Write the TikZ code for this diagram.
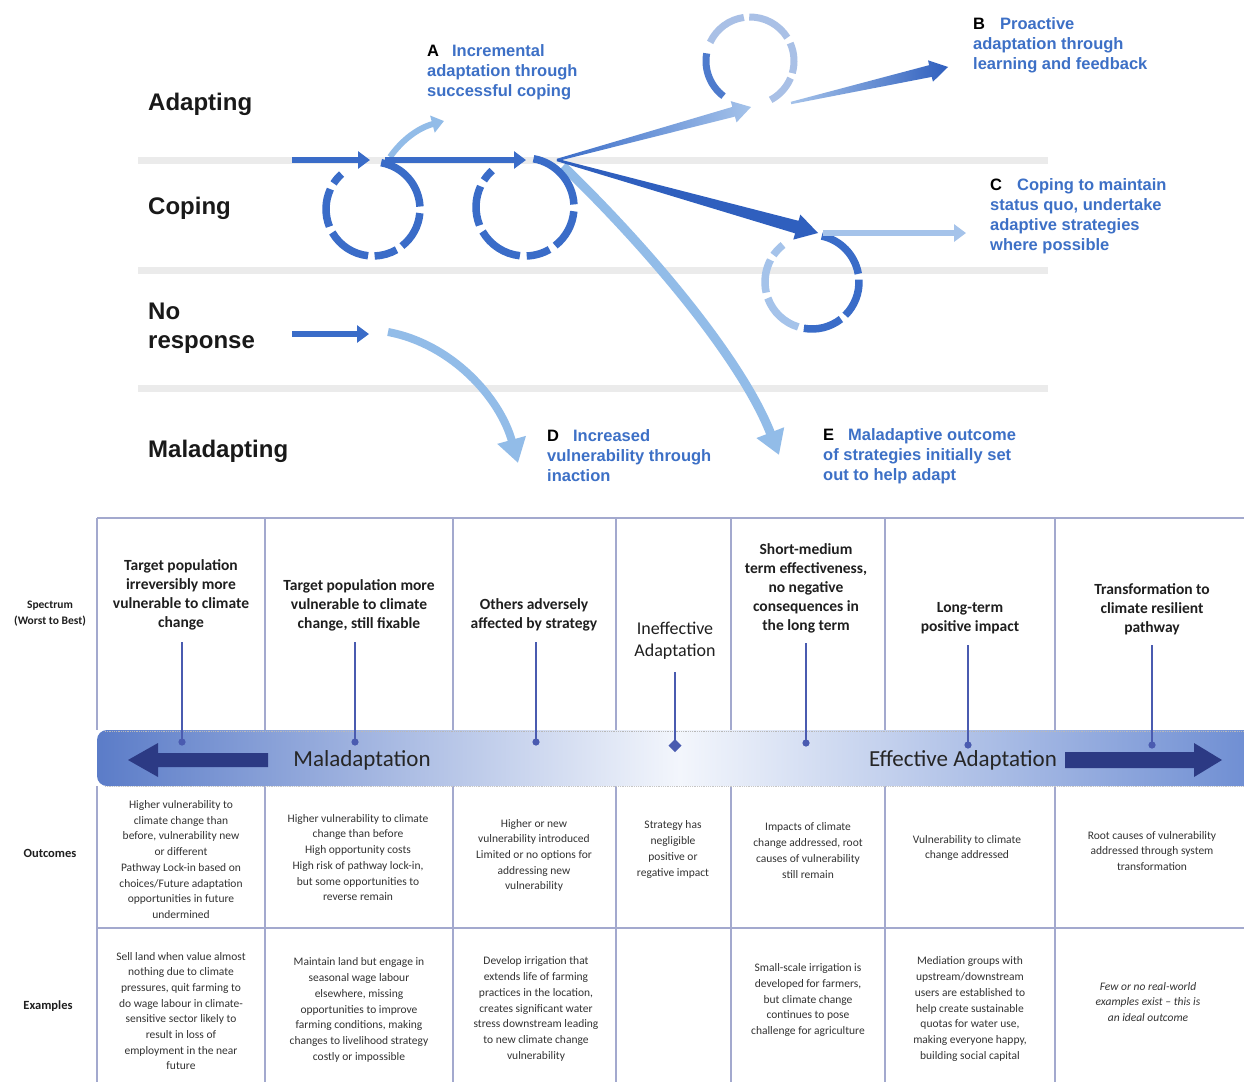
\documentclass[tikz,border=0pt]{standalone}
\usepackage{fontspec}
\setmainfont{Liberation Sans}
\newfontfamily\calfont{Carlito}
\usetikzlibrary{arrows.meta,calc}
\definecolor{bandgray}{HTML}{EBEBEB}
\definecolor{mblue}{HTML}{3A6CC8}
\definecolor{dblue}{HTML}{2F5FBE}
\definecolor{lblue}{HTML}{92BCE8}
\definecolor{lblue2}{HTML}{A5C3EA}
\definecolor{cfade}{HTML}{A9C0E6}
\definecolor{tblue}{HTML}{3D70C6}
\definecolor{tline}{HTML}{A3A9CE}
\definecolor{mk}{HTML}{4A5BB0}
\definecolor{navy}{HTML}{2C3A84}
\definecolor{navyl}{HTML}{5466B8}
\definecolor{barL}{HTML}{5B7CC8}
\definecolor{barM}{HTML}{F3F6FC}
\definecolor{barR}{HTML}{6C8CD2}
\definecolor{txt}{HTML}{333333}
\newcommand{\taparrow}[7]{%
  \coordinate (tpB) at ($(#2)!#6!(#1)$);
  \path[#7] ($(#1)!#3!90:(#2)$) -- ($(tpB)!#4!-90:(#1)$) -- ($(tpB)!#5!-90:(#1)$) -- (#2)
     -- ($(tpB)!#5!90:(#1)$) -- ($(tpB)!#4!90:(#1)$) -- ($(#1)!#3!-90:(#2)$) -- cycle;
}
\newcommand{\carc}[5]{%
  \draw[#5] ($(#1)+(#3:#2)$) arc[start angle=#3, end angle=#4, radius=#2];
}
\begin{document}
\begin{tikzpicture}[x=1pt,y=1pt,
  band/.style={draw=bandgray, line width=7},
  rowlab/.style={anchor=west, inner sep=0, text=black!90, font=\bfseries\fontsize{24}{29}\selectfont},
  toplab/.style={anchor=west, inner sep=0, align=left, text=tblue, font=\bfseries\fontsize{16.5}{20}\selectfont},
  barrow/.style={draw=mblue, line width=6.5, -{Triangle[width=17pt,length=12pt]}},
  larrow/.style={draw=lblue, line width=8, -{Triangle[width=28pt,length=24pt]}},
  circ/.style={draw=mblue, line width=7.5},
  tl/.style={draw=tline, line width=1.1},
  hdr/.style={inner sep=0, align=center, text=black!88, font=\calfont\bfseries\fontsize{15.5}{19}\selectfont},
  body/.style={inner sep=0, align=center, text=txt, font=\calfont\fontsize{11.5}{15.7}\selectfont},
  sidelab/.style={inner sep=0, align=center, text=black!88, font=\calfont\bfseries\fontsize{12.5}{16}\selectfont},
  mline/.style={draw=mk, line width=2},
  bartext/.style={inner sep=0, text=black!85, font=\calfont\fontsize{23}{26}\selectfont}]
\clip (0,0) rectangle (1244,-1082);
\fill[white] (0,0) rectangle (1244,-1082);

% ---------- top diagram ----------
\draw[band] (138,-160) -- (1048,-160);
\draw[band] (138,-270) -- (1048,-270);
\draw[band] (138,-388) -- (1048,-388);

\node[rowlab] (adapting) at (148,-104) {Adapting};
\node[rowlab] (coping) at (148,-208) {Coping};
\node[rowlab, align=left] (noresp) at (148,-328.5) {No\\response};
\node[rowlab] (malad) at (148,-451) {Maladapting};

\node[toplab] (labA) at (427,-72) {\textcolor{black}{A}\hspace{13pt}Incremental\\adaptation through\\successful coping};
\node[toplab] (labB) at (973,-45) {\textcolor{black}{B}\hspace{15pt}Proactive\\adaptation through\\learning and feedback};
\node[toplab] (labC) at (990,-216) {\textcolor{black}{C}\hspace{15pt}Coping to maintain\\status quo, undertake\\adaptive strategies\\where possible};
\node[toplab] (labD) at (547,-456) {\textcolor{black}{D}\hspace{14pt}Increased\\vulnerability through\\inaction};
\node[toplab] (labE) at (823,-456) {\textcolor{black}{E}\hspace{14pt}Maladaptive outcome\\of strategies initially set\\out to help adapt};

% light arrows
\coordinate (eS) at (563,-166); \coordinate (eT) at (779,-455);
\draw[larrow, line width=9] (eS) .. controls (650,-250) and (742,-360) .. (eT);
\coordinate (dS) at (388,-332); \coordinate (dT) at (518,-463);
\draw[larrow] (dS) .. controls (452,-344) and (500,-398) .. (dT);
\coordinate (aS) at (390,-157); \coordinate (aT) at (444,-121);
\draw[draw=lblue, line width=6, -{Triangle[width=17pt,length=12pt]}] (aS) .. controls (402,-140) and (418,-128) .. (aT);

% circles
\coordinate (c1) at (373,-209);
\coordinate (c2) at (525,-207);
\coordinate (c3) at (750,-61);
\coordinate (c4) at (812,-282);
\foreach \a/\b in {80/3, -5/-52, -60/-88, -96/-150, -158/-205, -213/-228} {
  \carc{c1}{47}{\a}{\b}{circ}
  \carc{c2}{49}{\a}{\b}{circ}
}
\foreach \a/\b in {155/98, 91/32, 24/-16, -23/-62} {
  \carc{c3}{44}{\a}{\b}{circ, draw=cfade, line width=7}
}
\carc{c3}{44}{170}{233}{circ, draw=mblue!90, line width=7}
\foreach \a/\b in {78/10, 3/-45, -52/-100} {
  \carc{c4}{47}{\a}{\b}{circ}
}
\foreach \a/\b in {-107/-160, -167/-208, -215/-232} {
  \carc{c4}{47}{\a}{\b}{circ, draw=lblue2}
}

% straight blue arrows
\coordinate (a1s) at (292,-160); \coordinate (a1e) at (370,-160);
\draw[barrow] (a1s) -- (a1e);
\coordinate (a2s) at (385,-160); \coordinate (a2e) at (526,-160);
\draw[barrow] (a2s) -- (a2e);
\coordinate (a3s) at (292,-334); \coordinate (a3e) at (369,-334);
\draw[barrow] (a3s) -- (a3e);

% fan of tapered arrows
\coordinate (fan) at (557,-160);
\coordinate (tipU) at (751,-107);
\taparrow{fan}{tipU}{1.2pt}{5pt}{11pt}{18pt}{left color=mblue,right color=lblue2}
\coordinate (tipC) at (818,-233);
\taparrow{fan}{tipC}{1.2pt}{6.5pt}{13pt}{22pt}{fill=dblue}
\coordinate (bS) at (791,-103); \coordinate (tipB) at (948,-67);
\taparrow{bS}{tipB}{1.2pt}{6pt}{11pt}{18pt}{left color=lblue2,right color=dblue}
\coordinate (cS) at (823,-233); \coordinate (cT) at (966,-233);
\draw[draw=lblue2, line width=6.5, -{Triangle[width=17pt,length=12pt]}] (cS) -- (cT);

% ---------- table ----------
\draw[tl] (97,-518) -- (1244,-518);
\foreach \x in {97,265,453,616,731,885,1055} {
  \draw[tl] (\x,-518) -- (\x,-730);
  \draw[tl] (\x,-786) -- (\x,-1082);
}
\draw[tl] (97,-928) -- (1244,-928);

% bar
\shade[left color=barL, right color=barR, middle color=barM, rounded corners=10] (97,-730) rectangle (1262,-786);
\draw[densely dotted, gray!55, line width=0.8] (105,-731) -- (1244,-731);
\draw[densely dotted, gray!45, line width=0.8] (105,-786) -- (1244,-786);
\fill[navy] (128,-760) -- (158,-743) -- (158,-753) -- (268,-753) -- (268,-767) -- (158,-767) -- (158,-777) -- cycle;
\shade[left color=navy, middle color=navyl, right color=navy] (1065,-752) -- (1194,-752) -- (1194,-743) -- (1222,-760) -- (1194,-777) -- (1194,-768) -- (1065,-768) -- cycle;
\node[bartext] (maltext) at (362,-760) {Maladaptation};
\node[bartext] (efftext) at (963,-760) {Effective Adaptation};

% headers
\node[sidelab, font=\calfont\bfseries\fontsize{11.5}{16}\selectfont] (spec) at (50,-614) {Spectrum\\(Worst to Best)};
\node[hdr] (h1) at (181,-594.5) {Target population\\irreversibly more\\vulnerable to climate\\change};
\node[hdr] (h2) at (359,-605) {Target population more\\vulnerable to climate\\change, still fixable};
\node[hdr] (h3) at (534,-614.5) {Others adversely\\affected by strategy};
\node[hdr, font=\calfont\fontsize{18}{22}\selectfont] (h4) at (675,-641) {Ineffective\\Adaptation};
\node[hdr] (h5) at (806,-588.5) {Short-medium\\term effectiveness,\\no negative\\consequences in\\the long term};
\node[hdr] (h6) at (970,-618.5) {Long-term\\positive impact};
\node[hdr] (h7) at (1152,-609) {Transformation to\\climate resilient\\pathway};

% markers
\foreach \i/\x/\t/\b in {1/182/642/742, 2/355/642/742, 3/536/642/742, 5/806/643/743, 6/968/645/745, 7/1152/645/745} {
  \coordinate (mt\i) at (\x,-\t);
  \coordinate (mb\i) at (\x,-\b);
  \draw[mline] (mt\i) -- (mb\i);
  \fill[mk] (mb\i) circle (3.6);
}
\coordinate (mt4) at (675,-672);
\coordinate (mb4) at (675,-745);
\draw[mline] (mt4) -- (mb4);
\fill[mk] (675,-739) -- (681.5,-745.5) -- (675,-752) -- (668.5,-745.5) -- cycle;

% outcomes
\node[sidelab] (outc) at (50,-853) {Outcomes};
\node[body] (o1) at (181,-859.5) {Higher vulnerability to\\climate change than\\before, vulnerability new\\or different\\Pathway Lock-in based on\\choices/Future adaptation\\opportunities in future\\undermined};
\node[body] (o2) at (358,-857.5) {Higher vulnerability to climate\\change than before\\High opportunity costs\\High risk of pathway lock-in,\\but some opportunities to\\reverse remain};
\node[body] (o3) at (534,-855.5) {Higher or new\\vulnerability introduced\\Limited or no options for\\addressing new\\vulnerability};
\node[body] (o4) at (673,-849.5) {Strategy has\\negligible\\positive or\\regative impact};
\node[body] (o5) at (808,-850.5) {Impacts of climate\\change addressed, root\\causes of vulnerability\\still remain};
\node[body] (o6) at (967,-848) {Vulnerability to climate\\change addressed};
\node[body] (o7) at (1152,-851) {Root causes of vulnerability\\addressed through system\\transformation};

% examples
\node[sidelab] (exa) at (48,-1006) {Examples};
\node[body] (e1) at (181,-1011) {Sell land when value almost\\nothing due to climate\\pressures, quit farming to\\do wage labour in climate-\\sensitive sector likely to\\result in loss of\\employment in the near\\future};
\node[body] (e2) at (359,-1010) {Maintain land but engage in\\seasonal wage labour\\elsewhere, missing\\opportunities to improve\\farming conditions, making\\changes to livelihood strategy\\costly or impossible};
\node[body] (e3) at (536,-1009) {Develop irrigation that\\extends life of farming\\practices in the location,\\creates significant water\\stress downstream leading\\to new climate change\\vulnerability};
\node[body] (e5) at (808,-1000) {Small-scale irrigation is\\developed for farmers,\\but climate change\\continues to pose\\challenge for agriculture};
\node[body] (e6) at (970,-1009) {Mediation groups with\\upstream/downstream\\users are established to\\help create sustainable\\quotas for water use,\\making everyone happy,\\building social capital};
\node[body, font=\calfont\itshape\fontsize{11.5}{15.7}\selectfont] (e7) at (1148,-1002) {Few or no real-world\\examples exist – this is\\an ideal outcome};
\end{tikzpicture}
\end{document}
